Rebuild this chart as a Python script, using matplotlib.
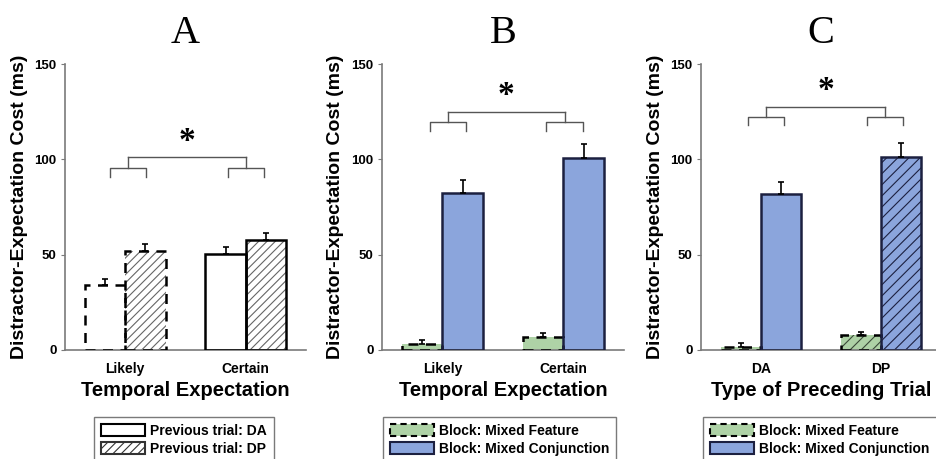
import matplotlib.pyplot as plt
from matplotlib.patches import Patch

plt.rcParams['font.family'] = ['Liberation Sans', 'DejaVu Sans']
plt.rcParams['font.weight'] = 'bold'
plt.rcParams['hatch.linewidth'] = 0.8

# Panel A: temporal expectation x previous trial
a_groups = ["Likely", "Certain"]
a_da = [34.0, 50.5]
a_da_err = [3.0, 3.5]
a_dp = [52.0, 57.8]
a_dp_err = [3.5, 3.5]

# Panel B: temporal expectation x block
b_groups = ["Likely", "Certain"]
b_feature = [3.1, 6.6]
b_feature_err = [1.9, 2.1]
b_conj = [82.5, 100.5]
b_conj_err = [6.5, 7.5]

# Panel C: preceding trial x block
c_groups = ["DA", "DP"]
c_feature = [1.7, 7.9]
c_feature_err = [1.8, 1.6]
c_conj = [82.0, 101.4]
c_conj_err = [6.0, 7.0]

GREEN = "#aed2a6"
BLUE = "#8ba5dc"
NAVY = "#1c2040"
GRAY = "#7a7a7a"
W = 0.335


def bar(ax, x, h, err, face, edge, ls="-", hatch=None, hatch_color=None):
    ax.bar(x, h, W, color=face, edgecolor=hatch_color if hatch else "none",
           hatch=hatch, linewidth=0, zorder=2)
    ax.bar(x, h, W, fill=False, edgecolor=edge, linestyle=ls, linewidth=1.8, zorder=3)
    ax.errorbar(x, h, yerr=[[0], [err]], fmt="none", ecolor="black",
                elinewidth=1.2, capsize=2.5, capthick=1.2, zorder=4)


def bracket(ax, centers, top, sub, end, star_y, half=0.15):
    kw = dict(color="#555555", linewidth=1.0, zorder=1)
    for c in centers:
        ax.plot([c - half, c - half, c + half, c + half], [end, sub, sub, end], **kw)
        ax.plot([c, c], [sub, top], **kw)
    ax.plot(centers, [top, top], **kw)
    ax.text(sum(centers) / 2, star_y, "*", ha="center", va="center",
            fontsize=24, family="Liberation Serif", fontweight="bold")


def style(ax, letter, groups, xlabel):
    ax.set_xlim(0.5, 2.5)
    ax.set_ylim(0, 150)
    ax.set_yticks([0, 50, 100, 150])
    ax.set_xticks([1, 2])
    ax.set_xticklabels(groups)
    for s in ("top", "right"):
        ax.spines[s].set_visible(False)
    for s in ("left", "bottom"):
        ax.spines[s].set_color(GRAY)
        ax.spines[s].set_linewidth(1.2)
    ax.tick_params(axis="x", length=0, pad=8.5, labelsize=10)
    ax.tick_params(axis="y", length=3, color=GRAY, pad=3, labelsize=9.5)
    ax.set_xlabel(xlabel, fontsize=14.5, fontweight="bold", labelpad=4)
    ax.set_ylabel("Distractor-Expectation Cost (ms)", fontsize=14, fontweight="bold",
                  labelpad=5)
    ax.text(0.5, 1.073, letter, transform=ax.transAxes, ha="center", va="baseline",
            fontsize=29, family="Liberation Serif", fontweight="normal")


fig = plt.figure(figsize=(9.36, 4.59), dpi=100)
ax_a = fig.add_axes([0.0694, 0.2375, 0.2575, 0.623])
ax_b = fig.add_axes([0.408, 0.2375, 0.2585, 0.623])
ax_c = fig.add_axes([0.749, 0.2375, 0.2564, 0.623])

# A
for i in range(2):
    ls = (0, (4, 3)) if i == 0 else "-"
    bar(ax_a, i + 1 - W / 2, a_da[i], a_da_err[i], "white", "black", ls)
    bar(ax_a, i + 1 + W / 2, a_dp[i], a_dp_err[i], "white", "black", ls,
        hatch="////", hatch_color="#666666")
bracket(ax_a, [1.02, 2.0], 101, 95.3, 91, 109.6)
style(ax_a, "A", a_groups, "Temporal Expectation")
ax_a.legend(handles=[Patch(facecolor="white", edgecolor="black", linewidth=1.5),
                     Patch(facecolor="white", edgecolor="#333333", hatch="////", linewidth=1.5)],
            labels=["Previous trial: DA", "Previous trial: DP"],
            loc="upper left", bbox_to_anchor=(0.12, -0.234), borderaxespad=0,
            fancybox=False, edgecolor=GRAY, framealpha=1, fontsize=10,
            handlelength=3.2, handleheight=0.95, handletextpad=0.35,
            labelspacing=0.3, borderpad=0.5)

# B
for i in range(2):
    bar(ax_b, i + 1 - W / 2, b_feature[i], b_feature_err[i], GREEN, "black", (0, (4, 3)))
    bar(ax_b, i + 1 + W / 2, b_conj[i], b_conj_err[i], BLUE, NAVY)
bracket(ax_b, [1.045, 2.01], 125, 119.5, 115, 133.5)
style(ax_b, "B", b_groups, "Temporal Expectation")

# C
for i in range(2):
    h = "///" if i == 1 else None
    bar(ax_c, i + 1 - W / 2, c_feature[i], c_feature_err[i], GREEN, "black", (0, (4, 3)),
        hatch=h, hatch_color="#3a4a38")
    bar(ax_c, i + 1 + W / 2, c_conj[i], c_conj_err[i], BLUE, NAVY, hatch=h, hatch_color=NAVY)
bracket(ax_c, [1.045, 2.035], 127.6, 122.3, 118, 136)
style(ax_c, "C", c_groups, "Type of Preceding Trial")

block_handles = [Patch(facecolor=GREEN, edgecolor="black", linestyle=(0, (3, 2)), linewidth=1.5),
                 Patch(facecolor=BLUE, edgecolor=NAVY, linewidth=1.5)]
block_labels = ["Block: Mixed Feature", "Block: Mixed Conjunction"]
for ax, x0 in ((ax_b, 0.004), (ax_c, 0.008)):
    ax.legend(handles=block_handles, labels=block_labels,
              loc="upper left", bbox_to_anchor=(x0, -0.234), borderaxespad=0,
              fancybox=False, edgecolor=GRAY, framealpha=1, fontsize=10,
              handlelength=3.2, handleheight=0.95, handletextpad=0.35,
              labelspacing=0.3, borderpad=0.5)

fig.savefig("out.png", dpi=100)
